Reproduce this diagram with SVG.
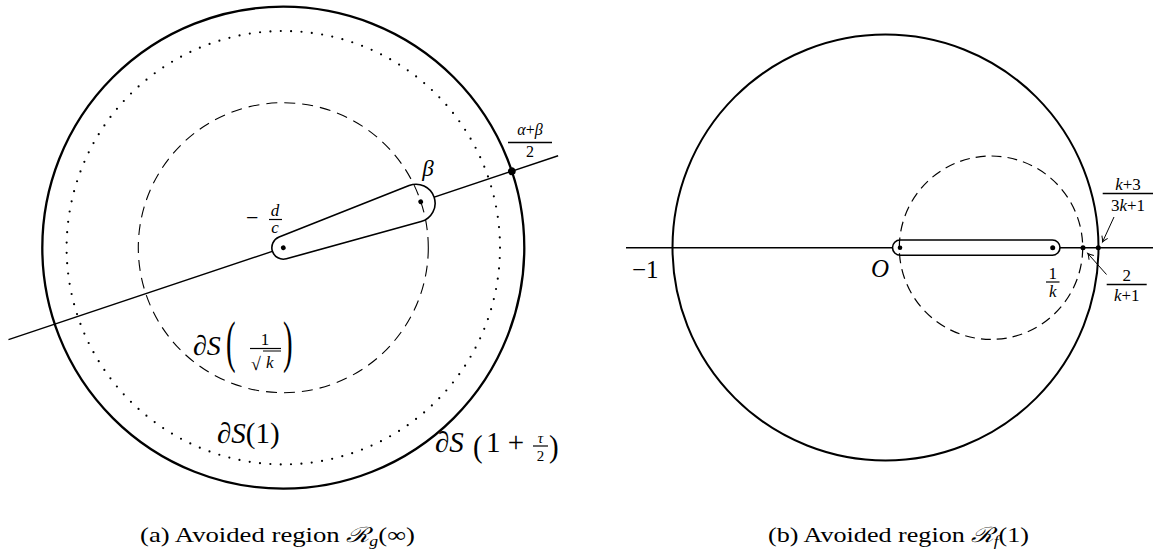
<svg xmlns="http://www.w3.org/2000/svg" width="1153" height="556" viewBox="0 0 1153 556" font-family="'Liberation Serif', 'Times New Roman', Times, serif">
<style>
.m{fill:#000}
.i{font-style:italic}
.ln{fill:none;stroke:#000}
.dot{fill:#000}
.cap{font-size:21px;fill:#000}
</style>
<defs>
<marker id="arr" viewBox="-7 -5 9 10" refX="0" refY="0" markerWidth="9" markerHeight="10" orient="auto" markerUnits="userSpaceOnUse">
<path d="M-5.5,-3.2 Q-2,-0.6 0,0 Q-2,0.6 -5.5,3.2" fill="none" stroke="#000" stroke-width="1"/>
</marker>
</defs>
<rect width="1153" height="556" fill="#fff"/>

<!-- Left diagram -->
<g id="left-diagram">
  <g id="left-circles">
    <circle class="ln" cx="283.3" cy="247.7" r="241" stroke-width="2.3"/>
    <circle class="ln" cx="283.3" cy="247.7" r="216.7" stroke-width="2.2" stroke-linecap="round" stroke-dasharray="0 10.39"/>
  </g>
  <g id="left-axis" transform="translate(283.3,247.7) rotate(-18.5)">
    <line class="ln" x1="-289.8" y1="0" x2="289.8" y2="0" stroke-width="1.4"/>
    <path id="left-pill" d="M-0.62,-11.48 L138.98,-18.97 A19,19 0 1 1 138.98,18.97 L-0.62,11.48 A11.5,11.5 0 0 1 -0.62,-11.48 Z" fill="#fff" stroke="#000" stroke-width="1.6"/>
  </g>
  <circle id="left-dashed" class="ln" cx="283.3" cy="247.7" r="145" stroke-width="1.1" stroke-dasharray="11 7"/>
  <g id="left-points" transform="translate(283.3,247.7) rotate(-18.5)">
    <circle class="dot" cx="0" cy="0" r="2.4"/>
    <circle class="dot" cx="144.9" cy="0" r="2.4"/>
    <circle class="dot" cx="241" cy="0" r="3.8"/>
  </g>
  <g id="label-dc">
    <text class="m" x="246" y="225" font-size="22">−</text>
    <text class="m i" x="275" y="216" font-size="17" text-anchor="middle">d</text>
    <line class="ln" x1="269" y1="219.5" x2="282" y2="219.5" stroke-width="1.2"/>
    <text class="m i" x="275" y="233" font-size="17" text-anchor="middle">c</text>
  </g>
  <g id="label-beta">
    <text class="m i" x="428" y="176" font-size="23" text-anchor="middle">β</text>
  </g>
  <g id="label-ab2">
    <text class="m i" x="530" y="135" font-size="16" text-anchor="middle">α<tspan font-style="normal">+</tspan>β</text>
    <line class="ln" x1="508" y1="142.5" x2="552" y2="142.5" stroke-width="1.4"/>
    <text class="m" x="530" y="157" font-size="16" text-anchor="middle">2</text>
  </g>
  <g id="label-S-sqrtk">
    <text class="m i" x="193" y="355" font-size="28">∂S</text>
    <text class="m" transform="translate(226,360.5) scale(0.8,1.6)" font-size="36">(</text>
    <text class="m" x="265" y="345" font-size="17" text-anchor="middle">1</text>
    <line class="ln" x1="250" y1="348.5" x2="281" y2="348.5" stroke-width="1.2"/>
    <text class="m" x="251" y="370" font-size="18">√</text>
    <line class="ln" x1="263" y1="351" x2="281" y2="351" stroke-width="1"/>
    <text class="m i" x="266" y="368" font-size="17">k</text>
    <text class="m" transform="translate(283,360.5) scale(0.8,1.6)" font-size="36">)</text>
  </g>
  <g id="label-S1">
    <text class="m" x="217" y="443" font-size="29"><tspan font-style="italic">∂S</tspan>(1)</text>
  </g>
  <g id="label-S-tau">
    <text class="m i" x="435" y="452" font-size="29">∂S</text>
    <text class="m" transform="translate(473,456.6) scale(1,1.12)" font-size="29">(</text>
    <text class="m" x="486" y="452" font-size="29">1</text>
    <text class="m" x="516" y="452" font-size="29" text-anchor="middle">+</text>
    <text class="m i" x="540.5" y="443" font-size="15" text-anchor="middle">τ</text>
    <line class="ln" x1="533" y1="446" x2="548" y2="446" stroke-width="1.2"/>
    <text class="m" x="540.5" y="461" font-size="15" text-anchor="middle">2</text>
    <text class="m" transform="translate(549,456.6) scale(1,1.12)" font-size="29">)</text>
  </g>
</g>

<!-- Right diagram -->
<g id="right-diagram">
  <circle id="right-circle" class="ln" cx="885.5" cy="247.5" r="213" stroke-width="2"/>
  <line id="right-axis" class="ln" x1="626" y1="247.7" x2="1153" y2="247.7" stroke-width="1.4"/>
  <rect id="right-pill" x="892.5" y="240" width="167.5" height="15.2" rx="7.6" ry="7.6" fill="#fff" stroke="#000" stroke-width="1.6"/>
  <circle id="right-dashed" class="ln" cx="991" cy="247.7" r="91.7" stroke-width="1.2" stroke-dasharray="10 6"/>
  <g id="right-points">
    <circle class="dot" cx="900" cy="247.7" r="2.3"/>
    <circle class="dot" cx="1052.7" cy="247.7" r="2.5"/>
    <circle class="dot" cx="1083" cy="247.7" r="2.5"/>
    <circle class="dot" cx="1098.3" cy="247.7" r="2.5"/>
  </g>
  <g id="label-minus1">
    <text class="m" x="632" y="278" font-size="25">−1</text>
  </g>
  <g id="label-O">
    <text class="m i" x="871" y="277" font-size="25">O</text>
  </g>
  <g id="label-1k">
    <text class="m" x="1052.7" y="279" font-size="17" text-anchor="middle">1</text>
    <line class="ln" x1="1046" y1="282" x2="1059.5" y2="282" stroke-width="1.2"/>
    <text class="m i" x="1052.7" y="297" font-size="17" text-anchor="middle">k</text>
  </g>
  <g id="label-2k1">
    <text class="m" x="1126.7" y="281" font-size="17" text-anchor="middle">2</text>
    <line class="ln" x1="1106.7" y1="284.5" x2="1146.7" y2="284.5" stroke-width="1.4"/>
    <text class="m" x="1126.7" y="301" font-size="17" text-anchor="middle"><tspan font-style="italic">k</tspan>+1</text>
  </g>
  <g id="label-k3">
    <text class="m" x="1128" y="190" font-size="17" text-anchor="middle"><tspan font-style="italic">k</tspan>+3</text>
    <line class="ln" x1="1102.7" y1="193.5" x2="1153" y2="193.5" stroke-width="1.4"/>
    <text class="m" x="1128" y="210.5" font-size="17" text-anchor="middle">3<tspan font-style="italic">k</tspan>+1</text>
  </g>
</g>

<g id="connectors">
  <line class="ln" x1="1114" y1="217" x2="1102.5" y2="242" stroke-width="1" marker-end="url(#arr)"/>
  <line class="ln" x1="1106.5" y1="274.5" x2="1087.8" y2="253.5" stroke-width="1" marker-end="url(#arr)"/>
</g>

<g id="captions">
  <text class="cap" x="140" y="542" textLength="275" lengthAdjust="spacingAndGlyphs">(a) Avoided region <tspan font-style="italic">ℛ</tspan><tspan dy="4" font-size="14" font-style="italic">g</tspan><tspan dy="-4">(∞)</tspan></text>
  <text class="cap" x="768" y="542" textLength="261" lengthAdjust="spacingAndGlyphs">(b) Avoided region <tspan font-style="italic">ℛ</tspan><tspan dy="4" font-size="14" font-style="italic">f</tspan><tspan dy="-4">(1)</tspan></text>
</g>
</svg>
